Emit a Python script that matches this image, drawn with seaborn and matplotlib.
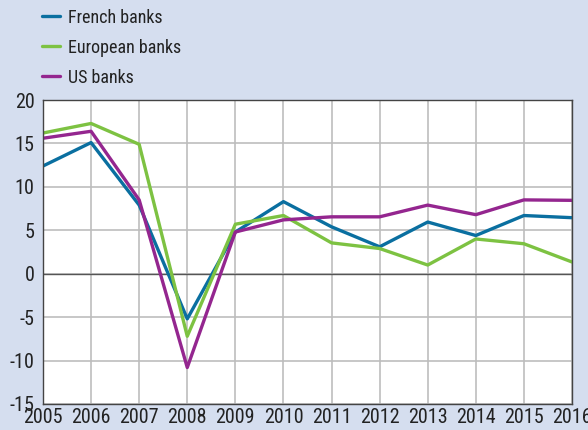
import matplotlib
matplotlib.use("Agg")
import matplotlib.pyplot as plt
from matplotlib import font_manager as fm
import seaborn as sns
import pandas as pd

years = list(range(2005, 2017))
french = [12.4, 15.1, 7.9, -5.2, 4.8, 8.3, 5.4, 3.1, 5.95, 4.4, 6.7, 6.45]
european = [16.2, 17.3, 14.9, -7.2, 5.7, 6.7, 3.55, 2.9, 1.0, 4.0, 3.45, 1.35]
us = [15.6, 16.4, 8.5, -10.8, 4.8, 6.2, 6.55, 6.55, 7.9, 6.8, 8.5, 8.45]
series_names = ["French banks", "European banks", "US banks"]
colors = ["#0a6fa0", "#7dc242", "#94268f"]
yticks = [-15, -10, -5, 0, 5, 10, 15, 20]

df = pd.DataFrame({"year": years, series_names[0]: french,
                   series_names[1]: european, series_names[2]: us})
long = df.melt(id_vars="year", var_name="series", value_name="value")

sns.set_theme(style="white")
names = {f.name for f in fm.fontManager.ttflist}
cands = ["Liberation Sans Narrow", "Roboto Condensed", "DejaVu Sans Condensed",
         "Open Sans Condensed", "Noto Sans Condensed", "DejaVu Sans"]
fam = [c for c in cands if c in names] or ["DejaVu Sans"]
plt.rcParams['font.family'] = fam
plt.rcParams['font.stretch'] = 'condensed'

bg = "#d5deef"
fig = plt.figure(figsize=(5.88, 4.30), dpi=100, facecolor=bg)
ax = fig.add_axes([0.0731, 0.0605, 0.8997, 0.7069])
ax.set_facecolor("white")

sns.lineplot(data=long, x="year", y="value", hue="series", hue_order=series_names,
             palette=colors, linewidth=2.4, ax=ax, legend=True)

ax.set_xlim(2005, 2016)
ax.set_ylim(-15, 20)
ax.set_xticks(years)
ax.set_yticks(yticks)
ax.set_xticklabels([str(y) for y in years])
ax.set_yticklabels([str(t) for t in yticks])
ax.grid(True, color="#bdbdbd", linewidth=1.2)
ax.axhline(0, color="#555555", linewidth=1.0, zorder=1.5)
ax.set_axisbelow(True)
for s in ax.spines.values():
    s.set_color("#444444")
    s.set_linewidth(1.0)
    s.set_visible(True)
ax.tick_params(axis="both", length=0, labelsize=14.5, colors="#222222")
ax.tick_params(axis="y", pad=6)
ax.tick_params(axis="x", pad=3)
ax.set_xlabel("")
ax.set_ylabel("")

leg = ax.legend(loc="upper left", bbox_to_anchor=(0.0595, 0.997), bbox_transform=fig.transFigure,
                frameon=False, fontsize=13, handlelength=1.0, handletextpad=0.45,
                labelspacing=0.67, borderaxespad=0)
for t in leg.get_texts():
    t.set_color("#222222")

fig.savefig("out.png", dpi=100, facecolor=bg)
